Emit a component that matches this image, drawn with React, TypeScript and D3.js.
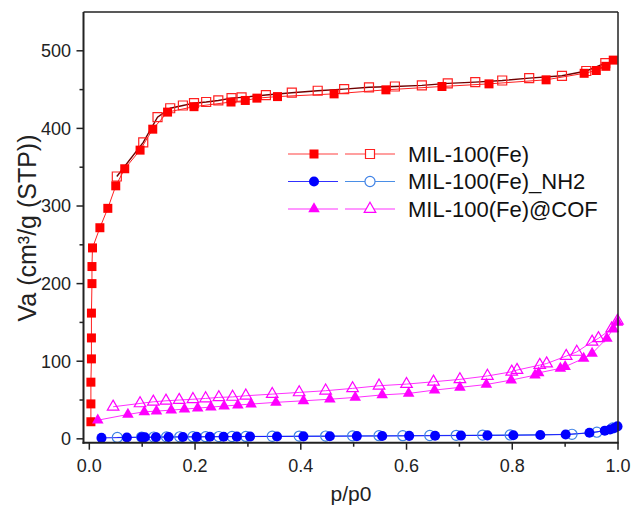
import React from 'react';
import * as d3 from 'd3';

// MIL-100(Fe) isotherm, [p/p0, Va]
const milAds: [number, number][] = [
  [0.003, 22], [0.003, 45], [0.003, 73], [0.004, 103], [0.004, 130], [0.004, 162],
  [0.005, 200], [0.005, 222], [0.006, 246], [0.02, 272], [0.035, 297], [0.05, 326],
  [0.067, 348], [0.096, 372], [0.12, 399], [0.148, 421], [0.198, 428], [0.268, 434],
  [0.295, 436], [0.317, 439], [0.356, 441], [0.463, 444.5], [0.561, 449.7], [0.667, 454],
  [0.756, 457.4], [0.864, 462.6], [0.936, 471], [0.959, 474.6], [0.977, 480], [0.991, 488],
];
const milDes: [number, number][] = [
  [0.052, 338], [0.102, 382], [0.129, 414.5], [0.153, 426], [0.177, 429.5], [0.198, 432.5],
  [0.221, 434], [0.244, 436], [0.269, 439], [0.288, 440], [0.334, 443], [0.383, 446],
  [0.432, 448.5], [0.482, 450.6], [0.529, 453], [0.578, 454], [0.629, 455.5], [0.678, 458],
  [0.73, 459.7], [0.781, 461.7], [0.832, 464.8], [0.894, 467.8], [0.94, 474], [0.976, 484],
];

// MIL-100(Fe)_NH2
const nh2Ads: [number, number][] = [
  [0.023, 1.2], [0.071, 1.7], [0.099, 2.0], [0.105, 2.0], [0.126, 2.1], [0.15, 2.3],
  [0.177, 2.4], [0.203, 2.5], [0.228, 2.6], [0.254, 2.7], [0.279, 2.8], [0.304, 2.9],
  [0.355, 3.0], [0.405, 3.2], [0.455, 3.3], [0.506, 3.5], [0.554, 3.6], [0.605, 3.8],
  [0.654, 4.0], [0.703, 4.2], [0.753, 4.4], [0.802, 4.6], [0.853, 4.9], [0.901, 5.6],
  [0.946, 7.8], [0.975, 10.5], [0.985, 12], [0.993, 14], [0.999, 16],
];
const nh2Des: [number, number][] = [
  [0.053, 1.8], [0.099, 2.2], [0.122, 2.3], [0.146, 2.5], [0.171, 2.6], [0.196, 2.7],
  [0.22, 2.8], [0.245, 2.9], [0.27, 3.0], [0.296, 3.1], [0.346, 3.3], [0.397, 3.5],
  [0.447, 3.6], [0.498, 3.8], [0.548, 4.0], [0.593, 4.1], [0.644, 4.3], [0.694, 4.5],
  [0.744, 4.8], [0.796, 5.0], [0.913, 5.8], [0.96, 8.5], [0.99, 14],
];

// MIL-100(Fe)@COF
const cofAds: [number, number][] = [
  [0.016, 24], [0.073, 31.4], [0.104, 34.8], [0.127, 35.7], [0.155, 37], [0.18, 38.3],
  [0.205, 39.6], [0.23, 40.9], [0.255, 42.2], [0.281, 43.5], [0.306, 44.8], [0.353, 47],
  [0.405, 49], [0.455, 51], [0.503, 53.4], [0.554, 56.6], [0.604, 58.5], [0.653, 62.8],
  [0.701, 66.3], [0.751, 70], [0.798, 75.7], [0.843, 82], [0.85, 85], [0.891, 90.8],
  [0.9, 93], [0.935, 103.6], [0.951, 110], [0.979, 129.5], [0.991, 142], [0.999, 150],
];
const cofDes: [number, number][] = [
  [0.045, 41.3], [0.096, 45.6], [0.121, 47.7], [0.145, 49], [0.17, 50], [0.196, 51],
  [0.22, 52], [0.245, 53.4], [0.271, 54], [0.296, 55.5], [0.346, 57.6], [0.397, 59.8],
  [0.447, 62], [0.498, 65], [0.548, 68.4], [0.6, 70.5], [0.651, 73.5], [0.701, 76.6],
  [0.753, 81], [0.799, 86.4], [0.809, 88.6], [0.852, 95], [0.865, 97], [0.902, 106.6],
  [0.922, 112], [0.951, 125], [0.963, 129.5], [0.988, 142], [0.999, 152],
];

const legendLabels = ['MIL-100(Fe)', 'MIL-100(Fe)_NH2', 'MIL-100(Fe)@COF'];
const xTicks = [0, 0.2, 0.4, 0.6, 0.8, 1.0];
const xMinor = [0.1, 0.3, 0.5, 0.7, 0.9];
const yTicks = [0, 100, 200, 300, 400, 500];
const yMinor = [50, 150, 250, 350, 450];

const W = 632, H = 509;
const left = 83.5, right = 618, top = 12, bottom = 442.7;
const FONT = '"Liberation Sans", Arial, sans-serif';

const x = d3.scaleLinear().domain([-0.011, 1.0]).range([left, right]);
const y = d3.scaleLinear().domain([-5, 550]).range([bottom, top]);
const line = d3.line<[number, number]>().x(d => x(d[0])).y(d => y(d[1]));

const sq = d3.symbol(d3.symbolSquare, 81)();
const circ = d3.symbol(d3.symbolCircle, 80)();
const tri = d3.symbol(d3.symbolTriangle, 58)();

const series = [
  { ads: milAds, des: milDes, shape: sq, fill: '#ff0000', open: '#ff2020', adsLine: '#ff2020', desLine: '#700000', legAds: '#ff4040', legDes: '#ff4040' },
  { ads: nh2Ads, des: nh2Des, shape: circ, fill: '#0000ff', open: '#3f82e6', adsLine: '#1a1aff', desLine: '#3f82e6', legAds: '#3030ff', legDes: '#4a8ee6' },
  { ads: cofAds, des: cofDes, shape: tri, fill: '#ff00ff', open: '#ff00ff', adsLine: '#ff30ff', desLine: '#ff30ff', legAds: '#ff30ff', legDes: '#ff30ff' },
];

export default function App() {
  return (
    <svg width={W} height={H} style={{ position: 'absolute', left: 0, top: 0, background: '#fff' }}
      fontFamily={FONT}>
      <rect width={W} height={H} fill="#fff" />

      {/* lines first, then markers */}
      {series.map((s, i) => (
        <g key={'l' + i} fill="none">
          <path d={line(s.des) || ''} stroke={s.desLine} strokeWidth={i === 0 ? 1.4 : 1} />
          <path d={line(s.ads) || ''} stroke={s.adsLine} strokeWidth={1} />
        </g>
      ))}
      {series.map((s, i) => (
        <g key={'m' + i}>
          {s.des.map((d, j) => (
            <path key={j} d={s.shape || ''} transform={`translate(${x(d[0])},${y(d[1])})`}
              fill="none" stroke={s.open} strokeWidth={1.2} />
          ))}
          {s.ads.map((d, j) => (
            <path key={j} d={s.shape || ''} transform={`translate(${x(d[0])},${y(d[1])})`} fill={s.fill} />
          ))}
        </g>
      ))}

      {/* frame */}
      <g stroke="#222" fill="none">
        <line x1={left} x2={right} y1={top} y2={top} strokeWidth={1.5} />
        <line x1={right} x2={right} y1={top} y2={bottom} strokeWidth={1.5} />
        <line x1={left} x2={left} y1={top} y2={bottom + 1} strokeWidth={2} />
        <line x1={left - 1} x2={right + 0.75} y1={bottom} y2={bottom} strokeWidth={2} />
        {xTicks.map(t => <line key={'xt' + t} x1={x(t)} x2={x(t)} y1={bottom} y2={bottom + 7} strokeWidth={1.5} />)}
        {xMinor.map(t => <line key={'xm' + t} x1={x(t)} x2={x(t)} y1={bottom} y2={bottom + 4} strokeWidth={1.5} />)}
        {yTicks.map(t => <line key={'yt' + t} x1={left} x2={left - 7} y1={y(t)} y2={y(t)} strokeWidth={1.5} />)}
        {yMinor.map(t => <line key={'ym' + t} x1={left} x2={left - 4} y1={y(t)} y2={y(t)} strokeWidth={1.5} />)}
      </g>

      <g fill="#222" fontSize={18}>
        {xTicks.map(t => (
          <text key={'xl' + t} x={x(t)} y={472} textAnchor="middle">{d3.format('.1f')(t)}</text>
        ))}
        {yTicks.map(t => (
          <text key={'yl' + t} x={71} y={y(t)} dy="0.35em" textAnchor="end">{t}</text>
        ))}
      </g>

      <text x={351} y={501} textAnchor="middle" fontSize={21} fill="#222">p/p0</text>
      <text transform="translate(36,228) rotate(-90)" textAnchor="middle" fontSize={25} fill="#222">
        Va (cm³/g (STP))
      </text>

      {/* legend */}
      {series.map((s, i) => {
        const ly = 154 + i * 27.5;
        return (
          <g key={'lg' + i}>
            <line x1={288} x2={338} y1={ly} y2={ly} stroke={s.legAds} strokeWidth={1.2} />
            <path d={s.shape || ''} transform={`translate(314,${ly})`} fill={s.fill} />
            <line x1={345} x2={395} y1={ly} y2={ly} stroke={s.legDes} strokeWidth={1.2} />
            <path d={s.shape || ''} transform={`translate(370,${ly})`} fill="#fff" stroke={s.open} strokeWidth={1.2} />
            <text x={408} y={ly} dy="0.35em" fontSize={22} fill="#111">{legendLabels[i]}</text>
          </g>
        );
      })}
    </svg>
  );
}
